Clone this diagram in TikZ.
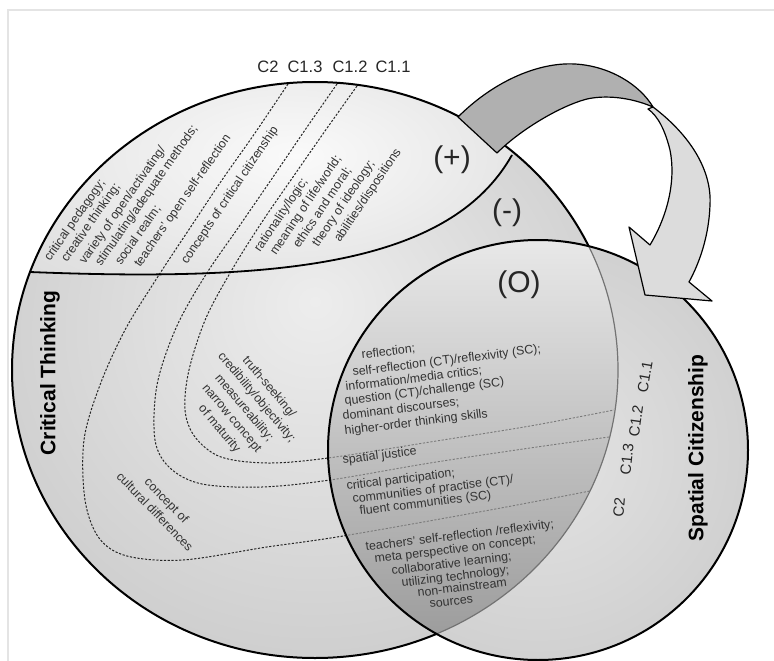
\documentclass[tikz,border=0pt]{standalone}
\usepackage{fontspec}
\setmainfont{Liberation Sans}
\usetikzlibrary{calc}

\definecolor{ltin}{HTML}{EDEDED}
\definecolor{ltout}{HTML}{BDBDBD}
\definecolor{capin}{HTML}{FAFAFA}
\definecolor{capout}{HTML}{D2D2D2}
\definecolor{rtin}{HTML}{E4E4E4}
\definecolor{rtout}{HTML}{C2C2C2}
\definecolor{lenstop}{HTML}{E8E8E8}
\definecolor{lensbot}{HTML}{989898}
\definecolor{arrowdark}{HTML}{B0B0B0}
\definecolor{arrowlight}{HTML}{DCDCDC}
\definecolor{txt}{HTML}{333333}
\definecolor{framegray}{HTML}{E4E4E4}
\definecolor{lensline}{HTML}{7A7A7A}

\pgfdeclareradialshading{leftglow}{\pgfpoint{0bp}{6bp}}{color(0bp)=(ltin); color(44bp)=(ltout); color(50bp)=(ltout)}
\pgfdeclareradialshading{capglow}{\pgfpoint{4bp}{0bp}}{color(0bp)=(capin); color(46bp)=(capout); color(50bp)=(capout)}
\pgfdeclareradialshading{rightglow}{\pgfpoint{0bp}{0bp}}{color(0bp)=(rtin); color(44bp)=(rtout); color(50bp)=(rtout)}

\newcommand\ctxt{\fontsize{12.4}{16.2}\selectfont}
\newcommand\ctag{\fontsize{16.5}{18}\selectfont}
\newcommand\cside{\fontsize{15}{17}\selectfont}
\newcommand\csign{\fontsize{30}{32}\selectfont}
\newcommand\ctitle{\fontsize{21}{24}\selectfont\bfseries}

\begin{document}
\begin{tikzpicture}[x=1pt, y=-1pt,
  outline/.style={draw=black, line width=2pt},
  dashline/.style={draw=black!85, line width=1pt, dash pattern=on 2.2pt off 1.6pt},
  lensdash/.style={draw=lensline, line width=0.9pt, dash pattern=on 2.2pt off 1.6pt},
  lbl/.style={inner sep=0pt, text=txt, font=\ctxt},
  upl/.style={lbl, anchor=base west, rotate=55},
  upr/.style={lbl, anchor=base west, rotate=56},
  lensl/.style={lbl, anchor=base west, rotate=7},
  tag/.style={inner sep=0pt, text=black!85, font=\ctag},
  sidetag/.style={inner sep=0pt, text=black!85, font=\cside},
  sign/.style={inner sep=0pt, text=black!85, font=\csign},
  title/.style={inner sep=0pt, text=black, font=\ctitle, rotate=90},
  arrowpart/.style={draw=black, line width=1.2pt, line join=round}]

\useasboundingbox (0,0) rectangle (774,661);
\fill[white] (0,0) rectangle (774,661);
\draw[framegray, line width=1.4pt] (8,661) -- (8,10) -- (774,10);

% the two sets
\def\leftpath{(315,370) ellipse [x radius=303pt, y radius=288pt]}
\def\rightpath{(538,450) circle [radius=210pt]}

% boundaries between the categories C1.1 ... C2
\def\lineA{plot[smooth, tension=0.55] coordinates {(288,84) (255,133) (222,180) (190,228) (157,278) (125,330) (100,385) (84,440) (85,500) (99,538) (127,556) (183,560) (267,547) (343,536) (490,510) (590,491)}}
\def\lineB{plot[smooth, tension=0.55] coordinates {(337,84) (305,130) (271,180) (238,228) (205,276) (176,328) (157,385) (155,440) (170,468) (202,484) (262,487) (330,480) (430,463) (530,448) (609,437)}}
\def\lineC{plot[smooth, tension=0.55] coordinates {(357,86) (325,131) (293,177) (262,222) (233,268) (206,318) (189,370) (185,410) (195,437) (221,457) (268,463) (328,458) (430,442) (530,426) (614,410)}}

% Critical Thinking
\shade[shading=leftglow] \leftpath;
\begin{scope}
  \clip \leftpath;
  \shade[shading=capglow] (30,272) .. controls (280,282) and (450,265) .. (512,155) -- (512,30) -- (0,30) -- (0,272) -- cycle;
\end{scope}
\draw[dashline] \lineA;
\draw[dashline] \lineB;
\draw[dashline] \lineC;
\draw[outline, line width=1.8pt] (30,272) .. controls (280,282) and (450,265) .. (512,155);
\draw[outline] \leftpath;

% Spatial Citizenship and the overlap
\shade[shading=rightglow] \rightpath;
\begin{scope}
  \clip \leftpath;
  \shade[top color=lenstop, bottom color=lensbot] \rightpath;
  \clip \rightpath;
  \draw[lensdash] \lineA;
  \draw[lensdash] \lineB;
  \draw[lensdash] \lineC;
\end{scope}
\begin{scope}
  \clip \rightpath;
  \draw[draw=black!55, line width=1.2pt] \leftpath;
\end{scope}
\draw[outline] \rightpath;

% twisted transfer arrow
\filldraw[arrowpart, fill=arrowlight]
  (653,107) .. controls (690,135) and (712,170) .. (710,205)
  .. controls (709,235) and (700,262) .. (689,282)
  -- (712,301) -- (645,295) -- (629,227) -- (650,245)
  .. controls (668,215) and (676,180) .. (670,150)
  .. controls (665,130) and (658,116) .. (648,109) -- cycle;
\filldraw[arrowpart, fill=arrowdark]
  (458,117) .. controls (495,80) and (540,62) .. (575,64)
  .. controls (610,66) and (640,85) .. (653,107)
  .. controls (630,97) and (605,95) .. (587,99)
  .. controls (560,106) and (520,130) .. (497,153) -- cycle;

% category tags
\node[tag] (tc2)  at (268,67) {C2};
\node[tag] (tc13) at (305,67) {C1.3};
\node[tag] (tc12) at (350,67) {C1.2};
\node[tag] (tc11) at (393,67) {C1.1};
\node[sidetag, rotate=85] (sc2)  at (619,507) {C2};
\node[sidetag, rotate=84] (sc13) at (627,459) {C1.3};
\node[sidetag, rotate=82] (sc12) at (636,421) {C1.2};
\node[sidetag, rotate=80] (sc11) at (645,377) {C1.1};

% region signs
\node[sign] (plus)  at (452,160) {(+)};
\node[sign] (minus) at (507,213) {(-)};
\node[sign] (zero)  at (519,285) {(O)};

% set titles
\node[title] (ct) at (50,373) {Critical Thinking};
\node[title] (sc) at (698,448) {Spatial Citizenship};

% (+) region, C2
\node[upl] (p1) at (50,262)  {critical pedagogy;};
\node[upl] (p2) at (67,263)  {creative thinking;};
\node[upl] (p3) at (85,265)  {variety of open/activating/};
\node[upl] (p4) at (101,267) {stimulating/adequate methods;};
\node[upl] (p5) at (121,266) {social realm;};
\node[upl] (p6) at (140,268) {teachers' open self-reflection};
% (+) region, C1.3
\node[upr] (p7) at (187,265) {concepts of critical citizenship};
% (+) region, C1.1
\node[upr] (q1) at (260,253) {rationality/logic;};
\node[upr] (q2) at (276,256) {meaning of life/world;};
\node[upr] (q3) at (299,249) {ethics and moral;};
\node[upr] (q4) at (318,248) {theory of ideology;};
\node[upr] (q5) at (340,243) {abilities/dispositions};

% (-) region
\node[lbl, rotate=-50, align=center] (m1) at (244,408)
  {truth-seeking/\\credibility/objectivity;\\measureability;\\narrow concept\\of maturity};
\node[lbl, rotate=-46, align=center] (m2) at (161,506)
  {concept of\\cultural differences};

% overlap (O)
\node[lensl] (o1)  at (362,359) {reflection;};
\node[lensl] (o2)  at (353,376) {self-reflection (CT)/reflexivity (SC);};
\node[lensl] (o3)  at (346,391) {information/media critics;};
\node[lensl] (o4)  at (345,405) {question (CT)/challenge (SC)};
\node[lensl] (o5)  at (343,420) {dominant discourses;};
\node[lensl] (o6)  at (345,435) {higher-order thinking skills};
\node[lensl] (o7)  at (343,464) {spatial justice};
\node[lensl] (o8)  at (347,490) {critical participation;};
\node[lensl] (o9)  at (353,503) {communities of practise (CT)/};
\node[lensl] (o10) at (360,515) {fluent communities (SC)};
\node[lensl] (o11) at (366,551) {teachers' self-reflection /reflexivity;};
\node[lensl] (o12) at (375,563) {meta perspective on concept;};
\node[lensl] (o13) at (392,575) {collaborative learning;};
\node[lensl] (o14) at (402,587) {utilizing technology;};
\node[lensl] (o15) at (418,597) {non-mainstream};
\node[lensl] (o16) at (430,608) {sources};
\end{tikzpicture}
\end{document}
